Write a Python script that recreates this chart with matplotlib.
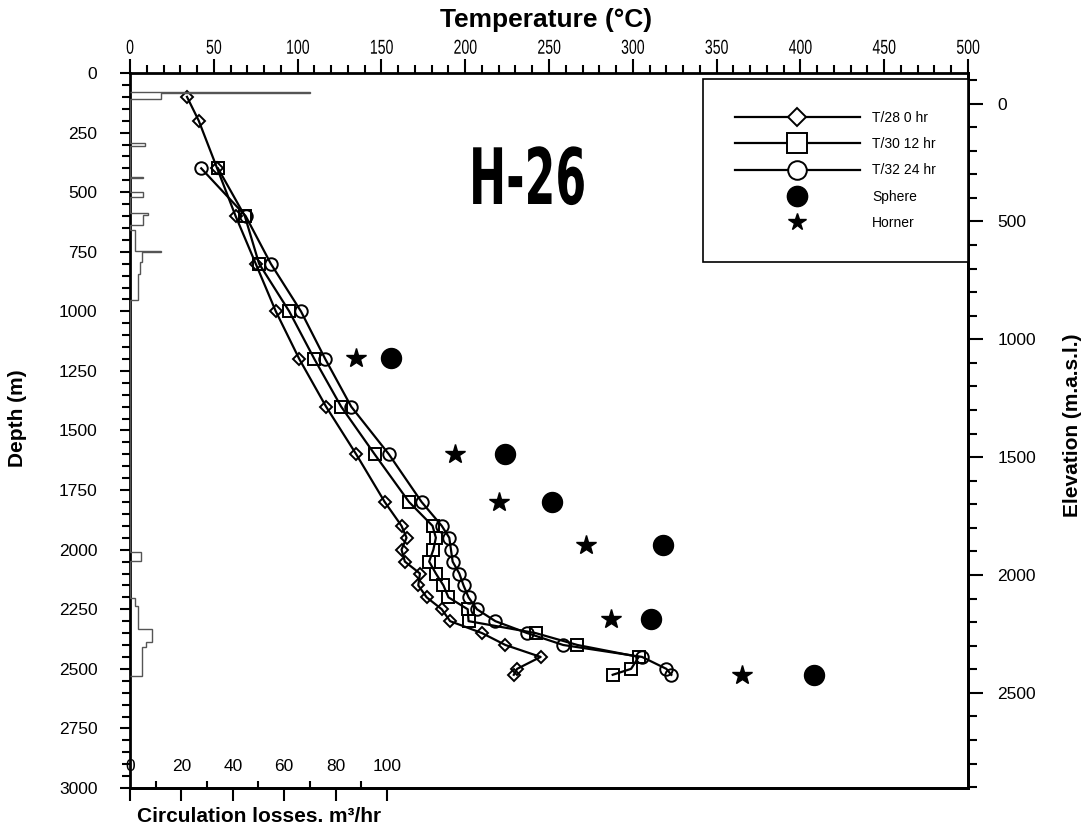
import matplotlib
matplotlib.use("Agg")
import matplotlib.pyplot as plt
from matplotlib import patheffects
from matplotlib.lines import Line2D
from matplotlib.ticker import MultipleLocator, FixedLocator
from matplotlib.transforms import Affine2D

plt.rcParams['font.family'] = ['Liberation Sans', 'DejaVu Sans']

# temperature logs: depth (m) and temperature (deg C)
depth_t28 = [100, 200, 400, 600, 800, 1000, 1200, 1400, 1600, 1800, 1900, 1950,
             2000, 2050, 2100, 2150, 2200, 2250, 2300, 2350, 2400, 2450, 2500, 2525]
temp_t28 = [34, 41, 52, 63, 75, 87, 101, 117, 135, 152, 162, 165,
            162, 164, 173, 172, 177, 186, 191, 210, 224, 245, 231, 229]

depth_t30 = [400, 600, 800, 1000, 1200, 1400, 1600, 1800, 1900, 1950, 2000,
             2050, 2100, 2150, 2200, 2250, 2300, 2350, 2400, 2450, 2500, 2525]
temp_t30 = [52.5, 68.5, 77, 95, 110, 126, 146, 166.5, 180.5, 182.5, 181,
            178.5, 182.5, 187, 190, 201.5, 202, 242, 267, 303.5, 299, 288]

depth_t32 = [400, 600, 800, 1000, 1200, 1400, 1600, 1800, 1900, 1950, 2000,
             2050, 2100, 2150, 2200, 2250, 2300, 2350, 2400, 2450, 2500, 2525]
temp_t32 = [42.5, 69, 84, 102, 116.5, 132, 154.5, 174, 186, 190.5, 191.5,
            192.5, 196.5, 199, 202, 207, 218, 237, 258.5, 305.5, 320, 323]

# formation temperature estimates
depth_est = [1195, 1600, 1800, 1980, 2290, 2525]
temp_sphere = [156, 224, 252, 318, 311, 408]
temp_horner = [135, 194, 220, 272, 287, 365]

# circulation losses (m3/hr) between depth edges (m)
loss_edges = [80, 86, 110, 295, 305, 435, 442, 498, 519, 588, 595, 638, 659,
              748, 753, 793, 845, 953, 2008, 2048, 2204, 2237, 2334, 2386, 2410, 2530]
loss_values = [70, 12, 0, 6, 0, 5, 0, 5, 0, 7, 5, 0, 2,
               12, 4.5, 3.9, 3.2, 0, 4.3, 0, 2, 3.2, 8.4, 6.4, 4.5]
loss_ticks = [0, 20, 40, 60, 80, 100]
loss_minor = [10, 30, 50, 70, 90]

ELEV_ZERO = 128   # depth of 0 m.a.s.l. on the right scale
ELEV_SCALE = 1.011


class Squeeze(patheffects.AbstractPathEffect):
    # draws text narrower around its centre, for the condensed lettering
    def __init__(self, sx):
        super().__init__()
        self.sx = sx

    def draw_path(self, renderer, gc, tpath, affine, rgbFace=None):
        ext = tpath.get_extents(affine)
        cx = (ext.x0 + ext.x1) / 2
        sq = Affine2D().translate(-cx, 0).scale(self.sx, 1).translate(cx, 0)
        renderer.draw_path(gc, tpath, affine + sq, rgbFace)


W, H = 1083, 831
L, R, T, B = 130, 968, 73, 788


def fx(px):
    return px / W


def fy(py):
    return 1 - py / H


fig = plt.figure(figsize=(W / 100, H / 100), dpi=100)
ax = fig.add_axes([fx(L), fy(B), (R - L) / W, (B - T) / H])
ax2 = ax.twiny()  # circulation losses, sharing the depth axis

# circulation losses
ax2.stairs(loss_values, loss_edges, orientation='horizontal', baseline=0,
           color='#555555', lw=1)
ax2.set_xlim(0, (R - L) / 2.57)
ax2.xaxis.set_ticks_position('bottom')
ax2.xaxis.set_major_locator(FixedLocator(loss_ticks))
ax2.xaxis.set_minor_locator(FixedLocator(loss_minor))
ax2.tick_params(axis='x', which='major', direction='out', length=9.5, width=1.5,
                labelsize=12.5, pad=-30.5)
ax2.tick_params(axis='x', which='minor', direction='in', length=5, width=1.5)
for side in ['top', 'left', 'right']:
    ax2.spines[side].set_visible(False)
ax2.spines['bottom'].set_linewidth(2)

# temperature profiles
line_kw = dict(color='black', lw=1.6, mec='black', mfc='none', mew=1.4)
ax.plot(temp_t28, depth_t28, marker='D', ms=5.8, **line_kw)
ax.plot(temp_t30, depth_t30, marker='s', ms=8.9, **line_kw)
ax.plot(temp_t32, depth_t32, marker='o', ms=9, **line_kw)
ax.plot(temp_sphere, depth_est, 'o', color='black', ms=14.4)
ax.plot(temp_horner, depth_est, '*', color='black', ms=14.6)

ax.set_xlim(0, 500)
ax.set_ylim(3000, 0)
ax.xaxis.set_ticks_position('top')
ax.xaxis.set_major_locator(MultipleLocator(50))
ax.xaxis.set_minor_locator(MultipleLocator(10))
ax.yaxis.set_major_locator(MultipleLocator(250))
ax.yaxis.set_minor_locator(MultipleLocator(50))
ax.tick_params(axis='x', which='major', direction='out', length=10, width=1.5,
               labelsize=14.5, pad=1)
ax.tick_params(axis='x', which='minor', direction='out', length=5.8, width=1.5)
ax.tick_params(axis='y', which='major', direction='out', length=7.5, width=1.5,
               labelsize=12.5, pad=16)
ax.tick_params(axis='y', which='minor', direction='out', length=5.8, width=1.5)
for s in ax.spines.values():
    s.set_linewidth(2)
for lab in ax.get_xticklabels():
    lab.set_path_effects([Squeeze(0.7)])

sec = ax.secondary_yaxis('right', functions=(
    lambda d: (d - ELEV_ZERO) * ELEV_SCALE,
    lambda e: e / ELEV_SCALE + ELEV_ZERO))
sec.yaxis.set_major_locator(MultipleLocator(500))
sec.yaxis.set_minor_locator(MultipleLocator(100))
sec.tick_params(axis='y', which='major', direction='out', length=11, width=1.5,
                labelsize=12.5, pad=10)
sec.tick_params(axis='y', which='minor', direction='out', length=6.5, width=1.5)
sec.spines['right'].set_linewidth(2)

# legend
handles = [
    Line2D([], [], color='black', lw=1.6, marker='D', ms=9, mfc='white', mec='black', mew=1.4),
    Line2D([], [], color='black', lw=1.6, marker='s', ms=14, mfc='white', mec='black', mew=1.4),
    Line2D([], [], color='black', lw=1.6, marker='o', ms=13.4, mfc='white', mec='black', mew=1.4),
    Line2D([], [], ls='none', marker='o', ms=14.6, color='black'),
    Line2D([], [], ls='none', marker='*', ms=13, color='black'),
]
labels = ['T/28 0 hr', 'T/30 12 hr', 'T/32 24 hr', 'Sphere', 'Horner']
leg = ax2.legend(handles, labels, loc='upper right',
                 bbox_to_anchor=(1.0, 1 - (79 - T) / (B - T)), borderaxespad=0,
                 fontsize=10, handlelength=9, handletextpad=0.9, labelspacing=0.88,
                 borderpad=2.3, fancybox=False, framealpha=1, numpoints=1)
leg.get_frame().set_edgecolor('black')
leg.get_frame().set_linewidth(1.2)

# texts
fig.text(fx(546), fy(20), 'Temperature (°C)', fontsize=19, fontweight='bold',
         ha='center', va='center')
fig.text(fx(18), fy(418), 'Depth (m)', fontsize=15, fontweight='bold',
         rotation=90, ha='center', va='center')
fig.text(fx(1073), fy(425), 'Elevation (m.a.s.l.)', fontsize=15, fontweight='bold',
         rotation=90, ha='center', va='center')
fig.text(fx(259), fy(816), 'Circulation losses. m³/hr', fontsize=15,
         fontweight='bold', ha='center', va='center')
fig.text(fx(527), fy(182), 'H-26', fontsize=56, fontweight='heavy',
         family=['DejaVu Sans'], ha='center', va='center',
         path_effects=[Squeeze(0.57)])

fig.savefig('out.png', dpi=100)
